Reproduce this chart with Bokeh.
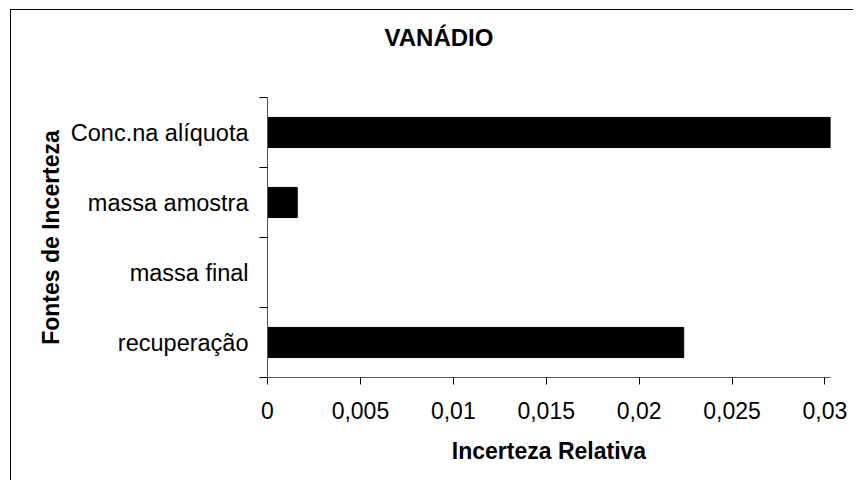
from bokeh.plotting import figure
from bokeh.models import Range1d, FixedTicker, Title
from bokeh.embed import file_html
from bokeh.resources import INLINE

# ---- data ----
categories = ["Conc.na alíquota", "massa amostra", "massa final", "recuperação"]
values = [0.0303, 0.0016, 0.0, 0.0224]
x_ticks = [0, 0.005, 0.01, 0.015, 0.02, 0.025, 0.03]
x_tick_labels = ["0", "0,005", "0,01", "0,015", "0,02", "0,025", "0,03"]
title_text = "VANÁDIO"
x_title = "Incerteza Relativa"
y_title = "Fontes de Incerteza"

n = len(categories)
y_pos = [n - i - 0.5 for i in range(n)]
FONT = "Liberation Sans"

p = figure(width=853, height=480, output_backend="svg", toolbar_location=None,
           x_range=Range1d(0, 0.0303), y_range=Range1d(0, n),
           min_border_left=267, min_border_right=23, min_border_top=97,
           min_border_bottom=103, title=title_text)

p.hbar(y=y_pos, right=values, left=0, height=0.43, fill_color="black",
       line_color="black")

p.outline_line_color = None
p.xgrid.grid_line_color = None
p.ygrid.grid_line_color = None
p.background_fill_color = "white"
p.border_fill_color = None

# outer chart border (top and left edges), drawn behind the transparent canvas
p.styles = {
    "background-color": "white",
    "background-image": "linear-gradient(#000,#000), linear-gradient(#000,#000)",
    "background-repeat": "no-repeat",
    "background-position": "10px 9px, 10px 9px",
    "background-size": "1px 100%, 100% 1px",
}

# spacer between title and plot area
p.add_layout(Title(text=" ", text_font_size="10px", standoff=34), "above")

# title
p.title.text_font = FONT
p.title.text_font_size = "24px"
p.title.text_font_style = "bold"
p.title.text_color = "black"
p.title.align = "left"
p.title.offset = 117
p.title.standoff = 0

# x axis
xa = p.xaxis[0]
xa.ticker = FixedTicker(ticks=x_ticks)
xa.major_label_overrides = {t: l for t, l in zip(x_ticks, x_tick_labels)}
xa.major_tick_in = 0
xa.major_tick_out = 7
xa.minor_tick_line_color = None
xa.axis_line_color = "#555555"
xa.major_tick_line_color = "black"
xa.major_label_text_font = FONT
xa.major_label_text_font_size = "23px"
xa.major_label_text_color = "black"
xa.major_label_standoff = 17
xa.axis_label = x_title
xa.axis_label_text_font = FONT
xa.axis_label_text_font_size = "23px"
xa.axis_label_text_font_style = "bold"
xa.axis_label_text_color = "black"
xa.axis_label_standoff = 16

# y axis
ya = p.yaxis[0]
ya.ticker = FixedTicker(ticks=y_pos, minor_ticks=list(range(n + 1)))
ya.major_label_overrides = {y: c for y, c in zip(y_pos, categories)}
ya.major_tick_line_color = None
ya.minor_tick_in = 0
ya.minor_tick_out = 8
ya.minor_tick_line_color = "black"
ya.axis_line_color = "#555555"
ya.major_label_text_font = FONT
ya.major_label_text_font_size = "23.5px"
ya.major_label_text_color = "black"
ya.major_label_standoff = 11
ya.axis_label = y_title
ya.axis_label_text_font = FONT
ya.axis_label_text_font_size = "23px"
ya.axis_label_text_font_style = "bold"
ya.axis_label_text_color = "black"
ya.axis_label_standoff = 4

open("out.html", "w").write(file_html(p, INLINE))
